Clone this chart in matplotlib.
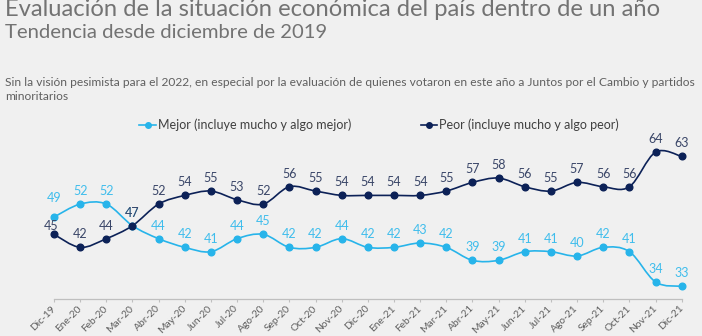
import numpy as np
import matplotlib
matplotlib.use("Agg")
import matplotlib.pyplot as plt
from matplotlib.path import Path
from matplotlib.patches import PathPatch
from matplotlib.lines import Line2D

plt.rcParams['font.family'] = ['Lato', 'DejaVu Sans']

months = ['Dic-19', 'Ene-20', 'Feb-20', 'Mar-20', 'Abr-20', 'May-20', 'Jun-20',
          'Jul-20', 'Ago-20', 'Sep-20', 'Oct-20', 'Nov-20', 'Dic-20', 'Ene-21',
          'Feb-21', 'Mar-21', 'Abr-21', 'May-21', 'Jun-21', 'Jul-21', 'Ago-21',
          'Sep-21', 'Oct-21', 'Nov-21', 'Dic-21']
mejor = [49, 52, 52, 47, 44, 42, 41, 44, 45, 42, 42, 44, 42, 42, 43, 42, 39,
         39, 41, 41, 40, 42, 41, 34, 33]
peor = [45, 42, 44, 47, 52, 54, 55, 53, 52, 56, 55, 54, 54, 54, 54, 55, 57,
        58, 56, 55, 57, 56, 56, 64, 63]

bg = '#f0f0f0'
c_mejor = '#27b4ea'
c_peor = '#0c2157'
lab_mejor = '#3fbdec'
lab_peor = '#3a4668'
grey = '#5f5f5f'

W, H = 702, 336
fig = plt.figure(figsize=(W / 100, H / 100), dpi=100, facecolor=bg)
ax = fig.add_axes([54 / W, 36.7 / H, (681.7 - 54) / W, 164.5 / H])
ax.set_facecolor(bg)


def smooth_path(xs, ys):
    # catmull-rom style bezier segments, like excel "smoothed line"
    p = np.column_stack([xs, ys]).astype(float)
    n = len(p)
    verts = [p[0]]
    codes = [Path.MOVETO]
    for i in range(n - 1):
        p0 = p[i - 1] if i > 0 else p[i]
        p3 = p[i + 2] if i + 2 < n else p[i + 1]
        c1 = p[i] + (p[i + 1] - p0) / 6
        c2 = p[i + 1] - (p3 - p[i]) / 6
        verts += [c1, c2, p[i + 1]]
        codes += [Path.CURVE4] * 3
    return Path(verts, codes)


x = np.arange(len(months))
for vals, col, lcol, name in [(mejor, c_mejor, lab_mejor, 'mejor'),
                              (peor, c_peor, lab_peor, 'peor')]:
    ax.add_patch(PathPatch(smooth_path(x, vals), facecolor='none',
                           edgecolor=col, lw=1.2, zorder=2))
    ax.plot(x, vals, 'o', color=col, ms=4.8, zorder=3, clip_on=False)
    for i, v in enumerate(vals):
        dy, dx = 9.4, 0
        if i == 0 and name == 'mejor':
            dy = 14
        if i == 0 and name == 'peor':
            dy, dx = 6, -2
        ax.annotate(str(v), (i, v), xytext=(dx, dy), textcoords='offset points',
                    ha='center', va='center', fontsize=9, color=lcol)

ax.set_xlim(0, len(months) - 1)
ax.set_ylim(30, 68)
ax.set_yticks([])
for s in ['left', 'right', 'top']:
    ax.spines[s].set_visible(False)
ax.spines['bottom'].set_color('#bfbfbf')
ax.spines['bottom'].set_linewidth(0.9)
ax.set_xticks(x)
ax.set_xticklabels(months, rotation=45, ha='right', va='center',
                   rotation_mode='anchor', fontsize=7.4, color=grey)
ax.tick_params(axis='x', length=2.5, color='#bfbfbf', pad=3)

handles = [Line2D([], [], color=c_mejor, marker='o', ms=4, lw=1.2),
           Line2D([], [], color=c_peor, marker='o', ms=4, lw=1.2)]
fig.legend(handles, ['Mejor (incluye mucho y algo mejor)',
                     'Peor (incluye mucho y algo peor)'],
           loc='center', bbox_to_anchor=(0.54, 1 - 125 / H), ncol=2,
           frameon=False, fontsize=9, handlelength=1.3, handletextpad=0.15,
           columnspacing=5.6, labelcolor='#404040')


def fitted_text(xp, yp, s, width, size, color, weight='normal'):
    t = fig.text(xp / W, 1 - yp / H, s, fontsize=size, color=color,
                 ha='left', va='baseline', fontweight=weight)
    r = fig.canvas.get_renderer()
    bb = t.get_window_extent(r)
    t.set_fontsize(size * width / bb.width)
    return t


fitted_text(5, 16, 'Evaluación de la situación económica del país dentro de un año',
            658, 16, '#737373')
fitted_text(5, 38.5, 'Tendencia desde diciembre de 2019', 322, 12, '#737373')
fitted_text(5, 86.5, 'Sin la visión pesimista para el 2022, en especial por la evaluación '
            'de quienes votaron en este año a Juntos por el Cambio y partidos',
            692, 8, grey)
fig.text(5 / W, 1 - 100.5 / H, 'minoritarios', fontsize=fig.texts[-1].get_fontsize(),
         color=grey, ha='left', va='baseline')

fig.savefig('out.png', dpi=100, facecolor=bg)
